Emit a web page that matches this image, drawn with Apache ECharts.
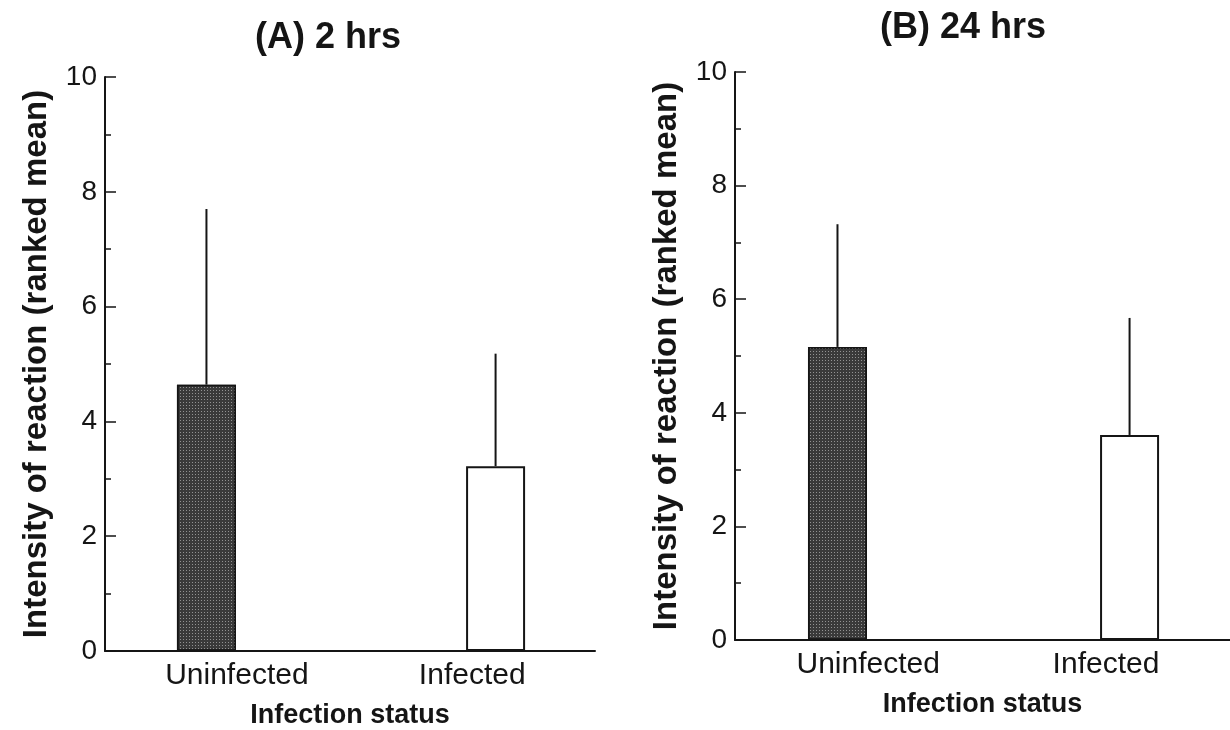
<!DOCTYPE html>
<html>
<head>
<meta charset="utf-8">
<script src="https://cdn.jsdelivr.net/npm/echarts@6/dist/echarts.min.js"></script>
<style>
html,body{margin:0;padding:0;background:#fff;}
#chart{width:1230px;height:730px;}
</style>
</head>
<body>
<div id="chart"></div>
<script>
// ---- data ----
const categories = ['Uninfected', 'Infected'];
const barPos = [1, 3.85];          // positions of the bars on the x scale
const labelPos = [1.3, 3.62];      // positions of the category labels
const panelTitles = ['(A) 2 hrs', '(B) 24 hrs'];
const meansA = [4.64, 3.22];
const upperA = [7.70, 5.18];
const meansB = [5.16, 3.61];
const upperB = [7.32, 5.67];
const yTicks = [0, 2, 4, 6, 8, 10];

const FONT = 'Liberation Sans, Arial, sans-serif';
const INK = '#151515';

const chart = echarts.init(document.getElementById('chart'), null, {renderer: 'canvas'});

const fills = [
  {color: '#3a3a3a', borderColor: INK, borderWidth: 1.5,
   decal: {symbol: 'rect', symbolSize: 1, color: 'rgba(255,255,255,0.45)', dashArrayX: [1, 2], dashArrayY: [1, 2], rotation: 0}},
  {color: '#ffffff', borderColor: INK, borderWidth: 2}
];

function xAxisCfg(idx) {
  return {
    type: 'value', gridIndex: idx, min: 0, max: 4.83,
    axisLine: {show: true, lineStyle: {color: INK, width: 2}},
    axisTick: {show: false},
    splitLine: {show: false},
    axisLabel: {
      customValues: labelPos,
      formatter: function (v) {
        let k = 0, best = 1e9;
        labelPos.forEach(function (p, i) { if (Math.abs(p - v) < best) { best = Math.abs(p - v); k = i; } });
        return categories[k];
      },
      fontFamily: FONT, fontSize: 30, color: INK, margin: 10
    },
    name: 'Infection status', nameLocation: 'middle', nameGap: 51,
    nameTextStyle: {fontFamily: FONT, fontSize: 27, fontWeight: 'bold', color: INK}
  };
}
function yAxisCfg(idx) {
  return {
    type: 'value', gridIndex: idx, min: yTicks[0], max: yTicks[yTicks.length - 1], interval: 2,
    axisLine: {show: true, lineStyle: {color: INK, width: 2}},
    axisTick: {show: true, inside: true, length: 11, lineStyle: {color: INK, width: 1.5}},
    minorTick: {show: true, splitNumber: 2, length: 6, lineStyle: {color: INK, width: 1.5}},
    splitLine: {show: false},
    axisLabel: {fontFamily: FONT, fontSize: 28, color: INK, margin: 8},
    name: 'Intensity of reaction (ranked mean)', nameLocation: 'middle', nameGap: 52,
    nameTextStyle: {fontFamily: FONT, fontSize: 33, fontWeight: 'bold', color: INK}
  };
}
function barSeries(idx, means) {
  return {
    type: 'bar', xAxisIndex: idx, yAxisIndex: idx, barWidth: 59,
    data: barPos.map(function (x, i) { return {value: [x, means[i]], itemStyle: fills[i]}; }),
    silent: true, z: 2
  };
}
function errSeries(idx, means, upper) {
  return {
    type: 'custom', xAxisIndex: idx, yAxisIndex: idx, z: 1,
    data: barPos.map(function (x, i) { return [x, means[i], upper[i]]; }),
    encode: {x: 0, y: [1, 2]},
    renderItem: function (params, api) {
      const p1 = api.coord([api.value(0), api.value(1)]);
      const p2 = api.coord([api.value(0), api.value(2)]);
      return {type: 'line', shape: {x1: p1[0], y1: p1[1], x2: p2[0], y2: p2[1]},
              style: {stroke: INK, lineWidth: 2}};
    }
  };
}

chart.setOption({
  backgroundColor: '#ffffff',
  animation: false,
  title: [
    {text: panelTitles[0], left: 323, top: 15, textAlign: 'center',
     textStyle: {fontFamily: FONT, fontSize: 36, fontWeight: 'bold', color: INK}},
    {text: panelTitles[1], left: 958, top: 5, textAlign: 'center',
     textStyle: {fontFamily: FONT, fontSize: 36, fontWeight: 'bold', color: INK}}
  ],
  grid: [
    {left: 105, top: 77, width: 490, height: 574, containLabel: false, outerBoundsMode: 'none'},
    {left: 735, top: 72, width: 495, height: 568, containLabel: false, outerBoundsMode: 'none'}
  ],
  xAxis: [xAxisCfg(0), xAxisCfg(1)],
  yAxis: [yAxisCfg(0), yAxisCfg(1)],
  series: [
    barSeries(0, meansA), errSeries(0, meansA, upperA),
    barSeries(1, meansB), errSeries(1, meansB, upperB)
  ]
});
</script>
</body>
</html>
